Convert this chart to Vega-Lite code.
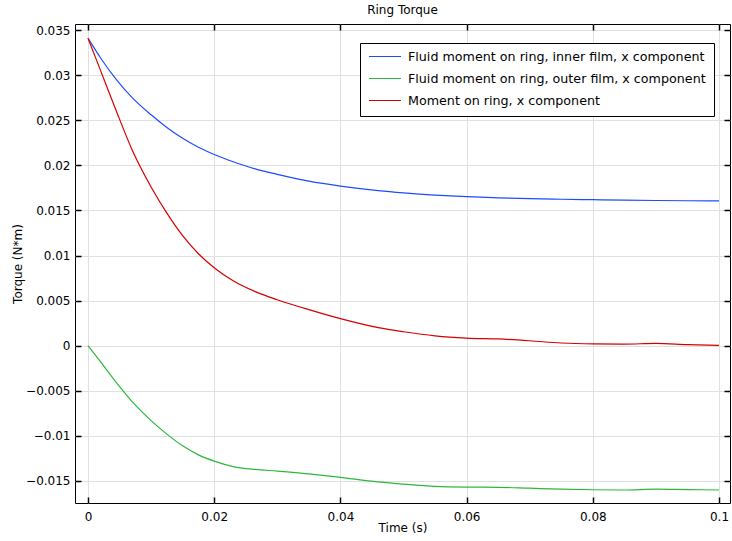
{
  "$schema": "https://vega.github.io/schema/vega-lite/v6.json",
  "width": 655,
  "height": 479,
  "autosize": {"type": "none"},
  "padding": {"left": 75, "top": 24, "right": 2, "bottom": 38},
  "title": {"text": "Ring Torque", "fontSize": 12, "fontWeight": "normal", "font": "DejaVu Sans", "color": "#000", "offset": 6},
  "config": {
    "font": "DejaVu Sans",
    "view": {"stroke": "#000", "strokeWidth": 1},
    "axis": {"labelFont": "DejaVu Sans", "titleFont": "DejaVu Sans", "labelFontSize": 12, "titleFontSize": 12, "titleFontWeight": "normal", "labelColor": "#000", "titleColor": "#000", "gridColor": "#e0e0e0", "gridWidth": 1, "tickColor": "#000", "tickWidth": 1.5, "domain": false}
  },
  "data": {"values": [
    {"t": 0, "v": 0.0341, "s": "Fluid moment on ring, inner film, x component"},
    {"t": 0.002, "v": 0.0319, "s": "Fluid moment on ring, inner film, x component"},
    {"t": 0.0045, "v": 0.0295, "s": "Fluid moment on ring, inner film, x component"},
    {"t": 0.007, "v": 0.0275, "s": "Fluid moment on ring, inner film, x component"},
    {"t": 0.01, "v": 0.0256, "s": "Fluid moment on ring, inner film, x component"},
    {"t": 0.0125, "v": 0.0242, "s": "Fluid moment on ring, inner film, x component"},
    {"t": 0.015, "v": 0.023, "s": "Fluid moment on ring, inner film, x component"},
    {"t": 0.0175, "v": 0.022, "s": "Fluid moment on ring, inner film, x component"},
    {"t": 0.02, "v": 0.0212, "s": "Fluid moment on ring, inner film, x component"},
    {"t": 0.023, "v": 0.0204, "s": "Fluid moment on ring, inner film, x component"},
    {"t": 0.0265, "v": 0.0196, "s": "Fluid moment on ring, inner film, x component"},
    {"t": 0.03, "v": 0.019, "s": "Fluid moment on ring, inner film, x component"},
    {"t": 0.035, "v": 0.01825, "s": "Fluid moment on ring, inner film, x component"},
    {"t": 0.04, "v": 0.0177, "s": "Fluid moment on ring, inner film, x component"},
    {"t": 0.046, "v": 0.0172, "s": "Fluid moment on ring, inner film, x component"},
    {"t": 0.05, "v": 0.01695, "s": "Fluid moment on ring, inner film, x component"},
    {"t": 0.055, "v": 0.0167, "s": "Fluid moment on ring, inner film, x component"},
    {"t": 0.06, "v": 0.01652, "s": "Fluid moment on ring, inner film, x component"},
    {"t": 0.065, "v": 0.0164, "s": "Fluid moment on ring, inner film, x component"},
    {"t": 0.07, "v": 0.0163, "s": "Fluid moment on ring, inner film, x component"},
    {"t": 0.075, "v": 0.01624, "s": "Fluid moment on ring, inner film, x component"},
    {"t": 0.08, "v": 0.01619, "s": "Fluid moment on ring, inner film, x component"},
    {"t": 0.085, "v": 0.01614, "s": "Fluid moment on ring, inner film, x component"},
    {"t": 0.09, "v": 0.0161, "s": "Fluid moment on ring, inner film, x component"},
    {"t": 0.095, "v": 0.01607, "s": "Fluid moment on ring, inner film, x component"},
    {"t": 0.1, "v": 0.01605, "s": "Fluid moment on ring, inner film, x component"},
    {"t": 0, "v": 0, "s": "Fluid moment on ring, outer film, x component"},
    {"t": 0.002, "v": -0.0018, "s": "Fluid moment on ring, outer film, x component"},
    {"t": 0.0045, "v": -0.0041, "s": "Fluid moment on ring, outer film, x component"},
    {"t": 0.007, "v": -0.0062, "s": "Fluid moment on ring, outer film, x component"},
    {"t": 0.01, "v": -0.0083, "s": "Fluid moment on ring, outer film, x component"},
    {"t": 0.0125, "v": -0.0098, "s": "Fluid moment on ring, outer film, x component"},
    {"t": 0.015, "v": -0.0111, "s": "Fluid moment on ring, outer film, x component"},
    {"t": 0.0175, "v": -0.0121, "s": "Fluid moment on ring, outer film, x component"},
    {"t": 0.02, "v": -0.0128, "s": "Fluid moment on ring, outer film, x component"},
    {"t": 0.023, "v": -0.0134, "s": "Fluid moment on ring, outer film, x component"},
    {"t": 0.0265, "v": -0.01372, "s": "Fluid moment on ring, outer film, x component"},
    {"t": 0.03, "v": -0.0139, "s": "Fluid moment on ring, outer film, x component"},
    {"t": 0.035, "v": -0.0142, "s": "Fluid moment on ring, outer film, x component"},
    {"t": 0.04, "v": -0.0146, "s": "Fluid moment on ring, outer film, x component"},
    {"t": 0.046, "v": -0.0151, "s": "Fluid moment on ring, outer film, x component"},
    {"t": 0.05, "v": -0.01535, "s": "Fluid moment on ring, outer film, x component"},
    {"t": 0.055, "v": -0.0156, "s": "Fluid moment on ring, outer film, x component"},
    {"t": 0.06, "v": -0.01568, "s": "Fluid moment on ring, outer film, x component"},
    {"t": 0.065, "v": -0.0157, "s": "Fluid moment on ring, outer film, x component"},
    {"t": 0.07, "v": -0.0158, "s": "Fluid moment on ring, outer film, x component"},
    {"t": 0.075, "v": -0.0159, "s": "Fluid moment on ring, outer film, x component"},
    {"t": 0.08, "v": -0.01597, "s": "Fluid moment on ring, outer film, x component"},
    {"t": 0.085, "v": -0.016, "s": "Fluid moment on ring, outer film, x component"},
    {"t": 0.09, "v": -0.0159, "s": "Fluid moment on ring, outer film, x component"},
    {"t": 0.095, "v": -0.01595, "s": "Fluid moment on ring, outer film, x component"},
    {"t": 0.1, "v": -0.016, "s": "Fluid moment on ring, outer film, x component"},
    {"t": 0, "v": 0.0341, "s": "Moment on ring, x component"},
    {"t": 0.002, "v": 0.0305, "s": "Moment on ring, x component"},
    {"t": 0.0045, "v": 0.026, "s": "Moment on ring, x component"},
    {"t": 0.007, "v": 0.0217, "s": "Moment on ring, x component"},
    {"t": 0.01, "v": 0.0176, "s": "Moment on ring, x component"},
    {"t": 0.0125, "v": 0.0147, "s": "Moment on ring, x component"},
    {"t": 0.015, "v": 0.0122, "s": "Moment on ring, x component"},
    {"t": 0.0175, "v": 0.0102, "s": "Moment on ring, x component"},
    {"t": 0.02, "v": 0.00865, "s": "Moment on ring, x component"},
    {"t": 0.023, "v": 0.0072, "s": "Moment on ring, x component"},
    {"t": 0.0265, "v": 0.006, "s": "Moment on ring, x component"},
    {"t": 0.03, "v": 0.0051, "s": "Moment on ring, x component"},
    {"t": 0.035, "v": 0.004, "s": "Moment on ring, x component"},
    {"t": 0.04, "v": 0.003, "s": "Moment on ring, x component"},
    {"t": 0.046, "v": 0.002, "s": "Moment on ring, x component"},
    {"t": 0.05, "v": 0.00155, "s": "Moment on ring, x component"},
    {"t": 0.055, "v": 0.0011, "s": "Moment on ring, x component"},
    {"t": 0.06, "v": 0.00085, "s": "Moment on ring, x component"},
    {"t": 0.065, "v": 0.00075, "s": "Moment on ring, x component"},
    {"t": 0.07, "v": 0.00055, "s": "Moment on ring, x component"},
    {"t": 0.075, "v": 0.0003, "s": "Moment on ring, x component"},
    {"t": 0.08, "v": 0.0002, "s": "Moment on ring, x component"},
    {"t": 0.085, "v": 0.00018, "s": "Moment on ring, x component"},
    {"t": 0.09, "v": 0.00025, "s": "Moment on ring, x component"},
    {"t": 0.095, "v": 0.00012, "s": "Moment on ring, x component"},
    {"t": 0.1, "v": 0.00003, "s": "Moment on ring, x component"}
  ]},
  "resolve": {"axis": {"x": "independent", "y": "independent"}},
  "layer": [
    {
      "mark": {"type": "line", "strokeWidth": 1.2, "interpolate": "monotone"},
      "encoding": {
        "x": {"field": "t", "type": "quantitative", "scale": {"domain": [-0.00206, 0.10174], "nice": false, "zero": false},
              "axis": {"title": "Time (s)", "values": [0, 0.02, 0.04, 0.06, 0.08, 0.1], "format": "~g", "tickSize": -6, "labelPadding": 14, "titlePadding": 0, "grid": true}},
        "y": {"field": "v", "type": "quantitative", "scale": {"domain": [-0.01744, 0.03567], "nice": false, "zero": false},
              "axis": {"title": "Torque (N*m)", "values": [-0.015, -0.01, -0.005, 0, 0.005, 0.01, 0.015, 0.02, 0.025, 0.03, 0.035], "format": "~g", "tickSize": -6, "labelPadding": 11, "titlePadding": 1, "grid": true}},
        "color": {"field": "s", "type": "nominal",
                  "scale": {"domain": ["Fluid moment on ring, inner film, x component", "Fluid moment on ring, outer film, x component", "Moment on ring, x component"], "range": ["#1f4bff", "#2db83d", "#d40000"]},
                  "legend": {"title": null, "orient": "none", "legendX": 285, "legendY": 19, "symbolType": "stroke", "symbolSize": 1024, "symbolStrokeWidth": 1.2, "clipHeight": 11, "labelFontSize": 12.7, "labelFont": "DejaVu Sans", "labelColor": "#000", "fillColor": "#fff", "strokeColor": "#000", "padding": 8, "rowPadding": 8, "labelOffset": 6, "labelLimit": 400}}
      }
    },
    {
      "mark": {"type": "line", "opacity": 0},
      "encoding": {
        "x": {"field": "t", "type": "quantitative", "axis": {"orient": "top", "title": null, "labels": false, "grid": false, "values": [0, 0.02, 0.04, 0.06, 0.08, 0.1], "tickSize": -6}},
        "y": {"field": "v", "type": "quantitative", "axis": {"orient": "right", "title": null, "labels": false, "grid": false, "values": [-0.015, -0.01, -0.005, 0, 0.005, 0.01, 0.015, 0.02, 0.025, 0.03, 0.035], "tickSize": -6}}
      }
    }
  ]
}
